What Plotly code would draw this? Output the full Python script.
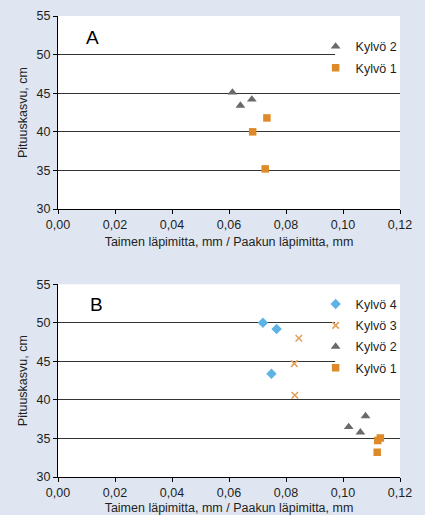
import plotly.graph_objects as go

# Panel A data
a_k2_x = [0.0612, 0.0640, 0.0680]
a_k2_y = [45.1, 43.4, 44.2]
a_k1_x = [0.0733, 0.0683, 0.0727]
a_k1_y = [41.8, 40.0, 35.2]

# Panel B data
b_k4_x = [0.0719, 0.0767, 0.0749]
b_k4_y = [50.0, 49.2, 43.4]
b_k3_x = [0.0845, 0.0829, 0.0831]
b_k3_y = [48.0, 44.7, 40.6]
b_k2_x = [0.1020, 0.1061, 0.1079]
b_k2_y = [36.5, 35.8, 37.9]
b_k1_x = [0.1122, 0.1131, 0.1120]
b_k1_y = [34.75, 35.05, 33.2]

x_ticks = [0, 0.02, 0.04, 0.06, 0.08, 0.10, 0.12]
x_tick_labels = ["0,00", "0,02", "0,04", "0,06", "0,08", "0,10", "0,12"]
y_ticks = [30, 35, 40, 45, 50, 55]

ORANGE = "#DE8A28"
GREY = "#6A6A6A"
BLUE = "#5DB3E6"
LORANGE = "#E3A05A"
FONT = "Liberation Sans, Arial, sans-serif"
TXT = "#1E1E1E"

# plot region in pixels
L, R, T, B = 58.0, 400.5, 15.7, 477.3
W, H = 425, 515
PW, PH = R - L, B - T

def px(xp):
    return (xp - L) / PW

def py(yp):
    return (B - yp) / PH

fig = go.Figure()

def add(x, y, name, symbol, color, size, xa, ya, legend, grp):
    fig.add_trace(go.Scatter(
        x=x, y=y, mode="markers", name=name, xaxis=xa, yaxis=ya, legend=legend,
        legendgroup=grp,
        marker=dict(symbol=symbol, color=color, size=size,
                    line=dict(width=1.6 if symbol == "x-thin" else 0, color=color)),
    ))

add(a_k2_x, a_k2_y, "Kylvö 2", "triangle-up", GREY, 8.5, "x", "y", "legend", "a2")
add(a_k1_x, a_k1_y, "Kylvö 1", "square", ORANGE, 7.5, "x", "y", "legend", "a1")

add(b_k4_x, b_k4_y, "Kylvö 4", "diamond", BLUE, 8, "x2", "y2", "legend2", "b4")
add(b_k3_x, b_k3_y, "Kylvö 3", "x-thin", LORANGE, 6.5, "x2", "y2", "legend2", "b3")
add(b_k2_x, b_k2_y, "Kylvö 2", "triangle-up", GREY, 8.5, "x2", "y2", "legend2", "b2")
add(b_k1_x, b_k1_y, "Kylvö 1", "square", ORANGE, 7.5, "x2", "y2", "legend2", "b1")

ydomA = [py(209), 1]
ydomB = [0, py(284.3)]

def xaxis(domain, anchor):
    return dict(domain=domain, anchor=anchor, range=[0, 0.12], tickvals=x_ticks,
                ticktext=x_tick_labels, showgrid=False, zeroline=False,
                showline=True, linecolor="#000000", linewidth=1,
                ticks="outside", ticklen=4, tickcolor="#000000", automargin=False,
                tickfont=dict(family=FONT, size=12.5, color=TXT),
                title=dict(text="Taimen läpimitta, mm / Paakun läpimitta, mm",
                           font=dict(family=FONT, size=12.5, color=TXT), standoff=6))

def yaxis(domain, anchor):
    return dict(domain=domain, anchor=anchor, range=[30, 55], tickvals=y_ticks,
                showgrid=True, gridcolor="#333333", gridwidth=1, zeroline=False,
                showline=True, linecolor="#000000", linewidth=1,
                ticks="outside", ticklen=4, tickcolor="#000000", automargin=False,
                tickfont=dict(family=FONT, size=12.5, color=TXT),
                title=dict(text="Pituuskasvu, cm",
                           font=dict(family=FONT, size=12.5, color=TXT), standoff=6))

leg_common = dict(bgcolor="rgba(0,0,0,0)", borderwidth=0, xanchor="left", yanchor="top",
                  font=dict(family=FONT, size=12.5, color=TXT),
                  itemwidth=30, tracegroupgap=2)

fig.update_layout(
    width=W, height=H,
    margin=dict(l=L, r=W - R, t=T, b=H - B, pad=0, autoexpand=False),
    paper_bgcolor="#DFE6F1",
    plot_bgcolor="white",
    showlegend=True,
    xaxis=xaxis([0, 1], "y"),
    yaxis=yaxis(ydomA, "x"),
    xaxis2=xaxis([0, 1], "y2"),
    yaxis2=yaxis(ydomB, "x2"),
    legend=dict(x=px(316), y=py(31.5), **leg_common),
    legend2=dict(x=px(316), y=py(289.5), **leg_common),
    shapes=[
        dict(type="rect", xref="paper", yref="paper", x0=px(335.5), x1=1,
             y0=py(80), y1=py(28), fillcolor="white", line=dict(width=0), layer="above"),
        dict(type="rect", xref="paper", yref="paper", x0=px(335.5), x1=1,
             y0=py(385), y1=py(289), fillcolor="white", line=dict(width=0), layer="above"),
    ],
    annotations=[
        dict(text="A", x=px(93), y=py(37.5), xref="paper", yref="paper",
             xanchor="center", yanchor="middle",
             showarrow=False, font=dict(family=FONT, size=19, color="#000000")),
        dict(text="B", x=px(97), y=py(305), xref="paper", yref="paper",
             xanchor="center", yanchor="middle",
             showarrow=False, font=dict(family=FONT, size=19, color="#000000")),
    ],
)

fig.write_html(
    "out.html",
    config={"displayModeBar": False},
    post_script="document.body.style.margin='0';document.body.style.overflow='hidden';",
)
